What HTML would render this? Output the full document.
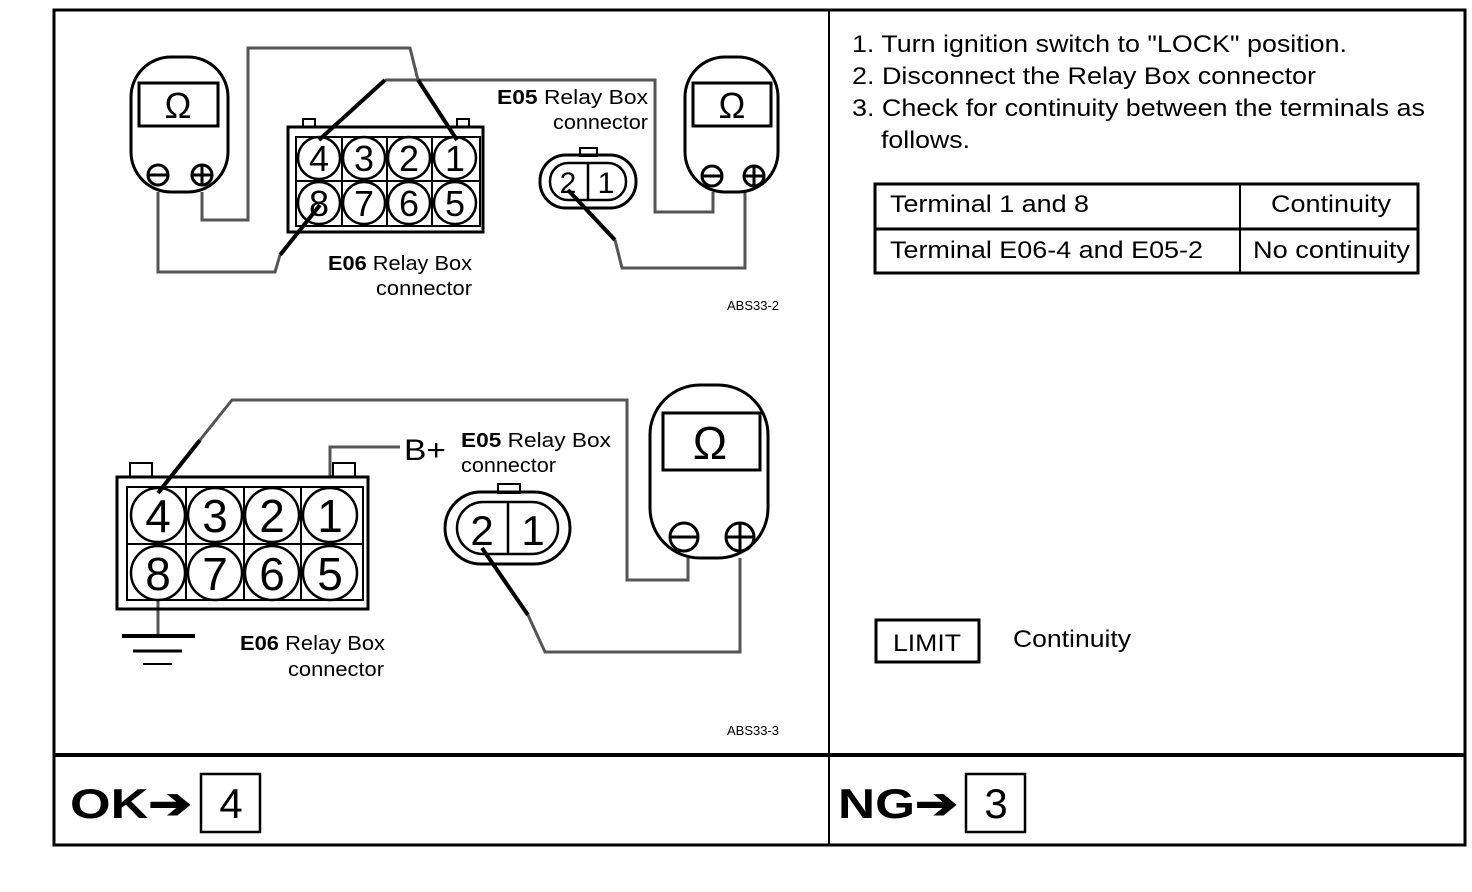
<!DOCTYPE html>
<html><head><meta charset="utf-8"><style>
html,body{margin:0;padding:0;background:#fff}
svg{display:block}
text{font-family:"Liberation Sans",sans-serif;fill:#000}
</style></head><body>
<svg width="1472" height="892" viewBox="0 0 1472 892" xmlns="http://www.w3.org/2000/svg">
<g fill="none" stroke="#000">
<rect x="54" y="10" width="1411" height="835" stroke-width="3"/>
<line x1="829" y1="10" x2="829" y2="845" stroke-width="2"/>
<line x1="54" y1="755" x2="1465" y2="755" stroke-width="4"/>

<g stroke="#555" stroke-width="3">
<polyline points="202,192 202,220 248,220 248,48 410,48 418,80"/>
<polyline points="385,80 655,80 655,212 713,212 713,192"/>
<polyline points="158,192 158,272 275,272 280,255"/>
<polyline points="615,240 622,268 745,268 745,192"/>
</g>
<g stroke-width="4">
<line x1="319" y1="140" x2="385" y2="80"/>
<line x1="418" y1="80" x2="457" y2="140"/>
<line x1="280" y1="255" x2="320" y2="205"/>
<line x1="568" y1="190" x2="615" y2="240"/>
</g>
<rect x="131" y="57" width="97" height="135" rx="40" stroke-width="3" fill="#fff"/>
<rect x="139" y="83" width="79" height="43" stroke-width="3"/>
<circle cx="158" cy="175" r="10" stroke-width="3"/><line x1="148" y1="175" x2="168" y2="175" stroke-width="3"/>
<circle cx="202" cy="175" r="10" stroke-width="3"/><line x1="192" y1="175" x2="212" y2="175" stroke-width="3"/><line x1="202" y1="165" x2="202" y2="185" stroke-width="3"/>
<rect x="685" y="57" width="93" height="135" rx="40" stroke-width="3" fill="#fff"/>
<rect x="693" y="83" width="78" height="43" stroke-width="3"/>
<circle cx="712" cy="176" r="10" stroke-width="3"/><line x1="702" y1="176" x2="722" y2="176" stroke-width="3"/>
<circle cx="754" cy="176" r="10" stroke-width="3"/><line x1="744" y1="176" x2="764" y2="176" stroke-width="3"/><line x1="754" y1="166" x2="754" y2="186" stroke-width="3"/>
<rect x="303" y="119" width="12" height="8" stroke-width="2"/>
<rect x="457" y="119" width="12" height="8" stroke-width="2"/>
<rect x="288" y="127" width="195" height="105" stroke-width="3" fill="none"/>
<rect x="296" y="137" width="184" height="89" stroke-width="2"/>
<line x1="296" y1="181" x2="480" y2="181" stroke-width="2"/>
<line x1="342" y1="137" x2="342" y2="226" stroke-width="2"/>
<line x1="387" y1="137" x2="387" y2="226" stroke-width="2"/>
<line x1="432" y1="137" x2="432" y2="226" stroke-width="2"/>
<g stroke-width="2.5">
<circle cx="319" cy="158" r="21"/><circle cx="364" cy="158" r="21"/><circle cx="409" cy="158" r="21"/><circle cx="455" cy="158" r="21"/>
<circle cx="319" cy="203" r="21"/><circle cx="364" cy="203" r="21"/><circle cx="409" cy="203" r="21"/><circle cx="455" cy="203" r="21"/>
</g>
<rect x="580" y="148" width="17" height="8" stroke-width="2"/>
<rect x="540" y="155" width="96" height="53" rx="26" stroke-width="3"/>
<rect x="550" y="163" width="76" height="37" rx="18" stroke-width="2.5"/>
<line x1="588" y1="163" x2="588" y2="200" stroke-width="2.5"/>

<g stroke="#555" stroke-width="3">
<polyline points="200,440 232,400 627,400 627,580 688,580 688,558"/>
<polyline points="330,478 330,447 400,447"/>
<polyline points="528,615 545,652 740,652 740,558"/>
<line x1="158" y1="600" x2="158" y2="635"/>
</g>
<g stroke-width="4">
<line x1="158" y1="493" x2="200" y2="440"/>
<line x1="482" y1="548" x2="528" y2="615"/>
</g>
<line x1="122" y1="636" x2="195" y2="636" stroke-width="4"/>
<line x1="133" y1="651" x2="182" y2="651" stroke-width="3"/>
<line x1="143" y1="664" x2="172" y2="664" stroke-width="2"/>
<rect x="130" y="463" width="22" height="14" stroke-width="2"/>
<rect x="333" y="463" width="22" height="14" stroke-width="2"/>
<rect x="117" y="477" width="251" height="132" stroke-width="3"/>
<rect x="127" y="487" width="236" height="113" stroke-width="2"/>
<line x1="127" y1="544" x2="363" y2="544" stroke-width="2"/>
<line x1="186" y1="487" x2="186" y2="600" stroke-width="2"/>
<line x1="244" y1="487" x2="244" y2="600" stroke-width="2"/>
<line x1="301" y1="487" x2="301" y2="600" stroke-width="2"/>
<g stroke-width="2.5">
<circle cx="158" cy="515" r="27"/><circle cx="215" cy="515" r="27"/><circle cx="272" cy="515" r="27"/><circle cx="330" cy="515" r="27"/>
<circle cx="158" cy="573" r="27"/><circle cx="215" cy="573" r="27"/><circle cx="272" cy="573" r="27"/><circle cx="330" cy="573" r="27"/>
</g>
<rect x="498" y="484" width="22" height="9" stroke-width="2"/>
<rect x="445" y="492" width="125" height="72" rx="36" stroke-width="3"/>
<rect x="457" y="502" width="101" height="52" rx="26" stroke-width="2.5"/>
<line x1="508" y1="502" x2="508" y2="554" stroke-width="2.5"/>
<rect x="650" y="385" width="118" height="173" rx="50" stroke-width="3" fill="#fff"/>
<rect x="663" y="413" width="97" height="57" stroke-width="3"/>
<circle cx="684" cy="537" r="14" stroke-width="3"/><line x1="670" y1="537" x2="698" y2="537" stroke-width="3"/>
<circle cx="740" cy="537" r="14" stroke-width="3"/><line x1="726" y1="537" x2="754" y2="537" stroke-width="3"/><line x1="740" y1="523" x2="740" y2="551" stroke-width="3"/>

<rect x="875" y="184" width="543" height="89" stroke-width="3"/>
<line x1="875" y1="229" x2="1418" y2="229" stroke-width="3"/>
<line x1="1240" y1="184" x2="1240" y2="273" stroke-width="2"/>
<rect x="876" y="620" width="103" height="42" stroke-width="3"/>
<rect x="201" y="774" width="59" height="58" stroke-width="2.5"/>
<rect x="966" y="774" width="59" height="58" stroke-width="2.5"/>
</g>

<g font-size="36" text-anchor="middle">
<text x="178" y="118">Ω</text><text x="732" y="118">Ω</text>
<text x="710" y="459" font-size="46">Ω</text>
</g>
<g font-size="36" text-anchor="middle">
<text x="319" y="171">4</text><text x="364" y="171">3</text><text x="409" y="171">2</text><text x="455" y="171">1</text>
<text x="319" y="216">8</text><text x="364" y="216">7</text><text x="409" y="216">6</text><text x="455" y="216">5</text>
<text x="568" y="193" font-size="30">2</text><text x="606" y="193" font-size="30">1</text>
</g>
<g font-size="46" text-anchor="middle">
<text x="158" y="532">4</text><text x="215" y="532">3</text><text x="272" y="532">2</text><text x="330" y="532">1</text>
<text x="158" y="590">8</text><text x="215" y="590">7</text><text x="272" y="590">6</text><text x="330" y="590">5</text>
<text x="482" y="545" font-size="42">2</text><text x="533" y="545" font-size="42">1</text>
</g>
<g font-size="20" lengthAdjust="spacingAndGlyphs">
<text x="497" y="104" textLength="151" lengthAdjust="spacingAndGlyphs"><tspan font-weight="bold">E05</tspan>  Relay Box</text>
<text x="553" y="129" textLength="95" lengthAdjust="spacingAndGlyphs">connector</text>
<text x="328" y="270" textLength="144" lengthAdjust="spacingAndGlyphs"><tspan font-weight="bold">E06</tspan> Relay Box</text>
<text x="376" y="295" textLength="96" lengthAdjust="spacingAndGlyphs">connector</text>
<text x="461" y="447" textLength="150" lengthAdjust="spacingAndGlyphs"><tspan font-weight="bold">E05</tspan>  Relay Box</text>
<text x="461" y="472" textLength="95" lengthAdjust="spacingAndGlyphs">connector</text>
<text x="240" y="650" textLength="145" lengthAdjust="spacingAndGlyphs"><tspan font-weight="bold">E06</tspan> Relay Box</text>
<text x="288" y="676" textLength="96" lengthAdjust="spacingAndGlyphs">connector</text>
</g>
<text x="404" y="460" font-size="30" textLength="42" lengthAdjust="spacingAndGlyphs">B+</text>
<text x="727" y="310" font-size="13">ABS33-2</text>
<text x="727" y="735" font-size="13">ABS33-3</text>
<g font-size="24">
<text x="852" y="52" textLength="495" lengthAdjust="spacingAndGlyphs">1. Turn ignition switch to "LOCK" position.</text>
<text x="852" y="84" textLength="464" lengthAdjust="spacingAndGlyphs">2. Disconnect the Relay Box connector</text>
<text x="852" y="116" textLength="573" lengthAdjust="spacingAndGlyphs">3. Check for continuity between the terminals as</text>
<text x="881" y="148" textLength="89" lengthAdjust="spacingAndGlyphs">follows.</text>
<text x="890" y="212" textLength="199" lengthAdjust="spacingAndGlyphs">Terminal 1 and 8</text>
<text x="1271" y="212" textLength="120" lengthAdjust="spacingAndGlyphs">Continuity</text>
<text x="890" y="258" textLength="313" lengthAdjust="spacingAndGlyphs">Terminal E06-4 and E05-2</text>
<text x="1253" y="258" textLength="157" lengthAdjust="spacingAndGlyphs">No continuity</text>
<text x="893" y="651" textLength="68" lengthAdjust="spacingAndGlyphs">LIMIT</text>
<text x="1013" y="647" textLength="118" lengthAdjust="spacingAndGlyphs">Continuity</text>
</g>
<g font-size="42" font-weight="bold">
<text x="70" y="818" textLength="122" lengthAdjust="spacingAndGlyphs">OK➔</text>
<text x="231" y="818" text-anchor="middle" font-weight="normal">4</text>
<text x="838" y="818" textLength="120" lengthAdjust="spacingAndGlyphs">NG➔</text>
<text x="996" y="818" text-anchor="middle" font-weight="normal">3</text>
</g>
</svg>
</body></html>
